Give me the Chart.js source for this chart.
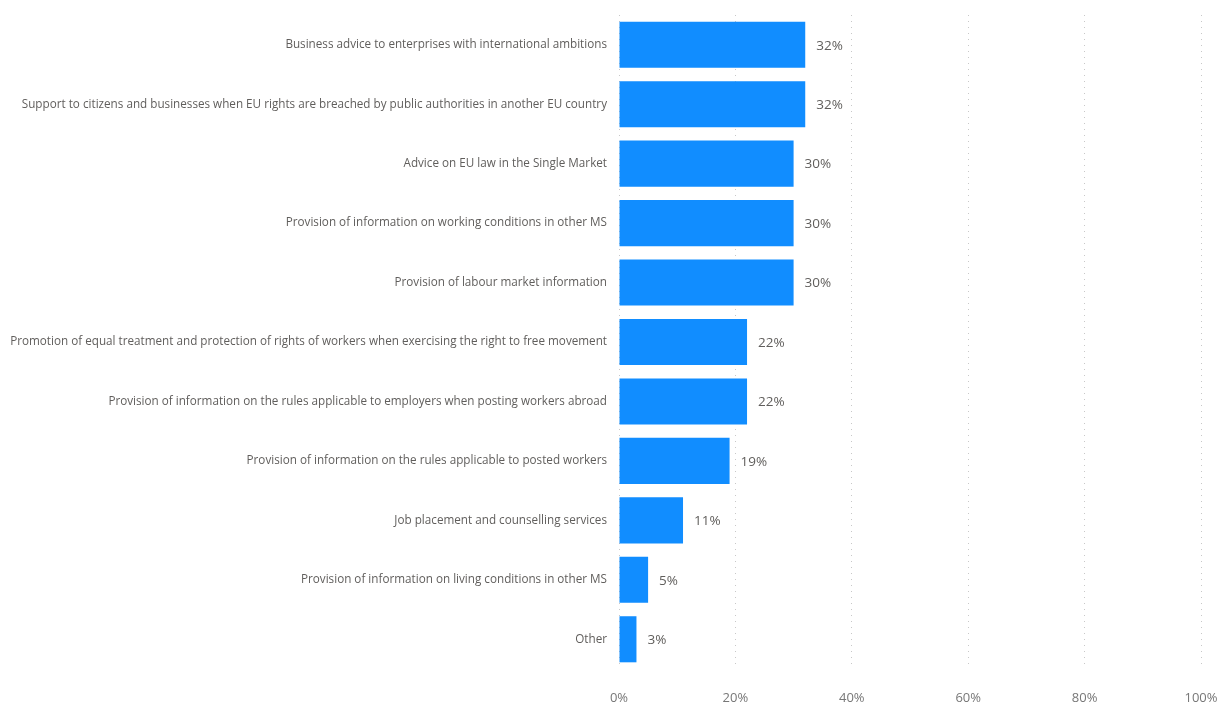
<!DOCTYPE html>
<html>
<head>
<meta charset="utf-8">
<script src="https://cdn.jsdelivr.net/npm/chart.js@4/dist/chart.umd.min.js"></script>
<style>
  html, body { margin: 0; padding: 0; background: #fff; }
  #wrap { width: 1220px; height: 706px; }
</style>
</head>
<body>
<div id="wrap"><canvas id="servicesChart"></canvas></div>
<script>
// Services offered, share of respondents (%)
const services = [
    'Business advice to enterprises with international ambitions',
    'Support to citizens and businesses when EU rights are breached by public authorities in another EU country',
    'Advice on EU law in the Single Market',
    'Provision of information on working conditions in other MS',
    'Provision of labour market information',
    'Promotion of equal treatment and protection of rights of workers when exercising the right to free movement',
    'Provision of information on the rules applicable to employers when posting workers abroad',
    'Provision of information on the rules applicable to posted workers',
    'Job placement and counselling services',
    'Provision of information on living conditions in other MS',
    'Other'
];
const shares = [32, 32, 30, 30, 30, 22, 22, 19, 11, 5, 3];
const axisTicks = [0, 20, 40, 60, 80, 100];

const textColor = '#605E5C';
const fontFamily = '"Open Sans", "Noto Sans", sans-serif';

// Draw the value next to the end of each bar
const barValueLabels = {
    id: 'barValueLabels',
    afterDatasetsDraw(chart) {
        const ctx = chart.ctx;
        const meta = chart.getDatasetMeta(0);
        ctx.save();
        ctx.font = '13.5px ' + fontFamily;
        ctx.fillStyle = textColor;
        ctx.textAlign = 'left';
        ctx.textBaseline = 'middle';
        meta.data.forEach((bar, i) => {
            ctx.fillText(shares[i] + '%', bar.x + 11, bar.y + 1);
        });
        ctx.restore();
    }
};

const ctx = document.getElementById('servicesChart').getContext('2d');
new Chart(ctx, {
    type: 'bar',
    data: {
        labels: services,
        datasets: [{
            data: shares,
            backgroundColor: '#118DFF',
            borderWidth: 0,
            barPercentage: 0.775,
            categoryPercentage: 1.0
        }]
    },
    options: {
        indexAxis: 'y',
        responsive: true,
        maintainAspectRatio: false,
        animation: false,
        layout: {
            padding: { top: 15, right: 0, bottom: 0, left: 0 }
        },
        scales: {
            x: {
                min: 0,
                max: 100,
                afterBuildTicks: function (scale) {
                    scale.ticks = axisTicks.map(v => ({ value: v }));
                },
                afterFit: function (scale) {
                    scale.height = 37;
                    scale.paddingRight = 19;
                },
                grid: {
                    color: '#C8C8C8',
                    lineWidth: 1,
                    drawTicks: false
                },
                border: { display: false, dash: [1, 5] },
                ticks: {
                    padding: 21,
                    color: '#777',
                    font: { family: fontFamily, size: 13 },
                    callback: function (value) {
                        return value + '%';
                    }
                }
            },
            y: {
                afterFit: function (scale) {
                    scale.width = 619;
                    scale.paddingTop = 0;
                    scale.paddingBottom = 0;
                },
                grid: { display: false, drawTicks: false },
                border: { display: false },
                ticks: {
                    padding: 12,
                    color: textColor,
                    font: { family: fontFamily, size: 11.7 },
                    autoSkip: false
                }
            }
        },
        plugins: {
            legend: { display: false },
            tooltip: { enabled: false }
        }
    },
    plugins: [barValueLabels]
});
</script>
</body>
</html>
